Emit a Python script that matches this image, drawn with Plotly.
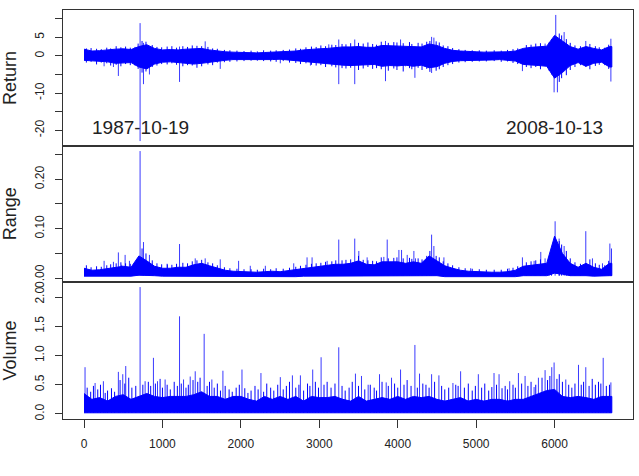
import plotly.graph_objects as go

# ---------------- data ----------------
# envelope of the dense band, sampled every 100 observations
bin_x = list(range(0, 6701, 100)) + [6730]

ret_hi = [1.8, 1.3, 1.4, 1.5, 1.8, 1.9, 1.7, 2.5, 3.0, 2.0,
          1.6, 1.7, 1.6, 1.8, 1.9, 2.0, 1.6, 1.3, 1.1, 1.0,
          0.9, 0.9, 0.8, 0.9, 1.0, 1.0, 1.1, 1.3, 1.6, 1.8,
          1.9, 2.0, 2.2, 2.4, 2.4, 2.5, 2.3, 2.3, 2.8, 2.7,
          2.8, 2.5, 2.6, 2.4, 3.2, 2.8, 2.0, 1.5, 1.3, 1.1,
          1.1, 1.0, 1.0, 1.0, 1.1, 1.3, 2.0, 2.3, 2.5, 2.6,
          5.5, 4.0, 2.5, 1.8, 2.5, 2.0, 1.6, 2.5, 2.5]
ret_lo = [-1.2, -1.3, -1.5, -1.6, -2.0, -2.0, -1.8, -3.0, -3.5, -2.2,
          -1.7, -1.6, -2.0, -2.0, -2.2, -2.0, -1.6, -1.4, -1.2, -1.0,
          -1.0, -1.1, -0.9, -1.0, -1.0, -0.9, -1.2, -1.3, -1.5, -1.8,
          -2.0, -2.1, -2.3, -2.5, -2.6, -2.7, -2.4, -2.3, -2.8, -2.6,
          -2.7, -2.5, -2.8, -2.5, -3.2, -2.9, -2.0, -1.5, -1.3, -1.2,
          -1.1, -1.1, -1.1, -1.0, -1.2, -1.4, -2.3, -2.5, -2.6, -2.8,
          -6.0, -4.5, -2.6, -1.8, -2.8, -2.0, -1.7, -3.0, -3.0]

rng_hi = [0.020, 0.016, 0.017, 0.019, 0.022, 0.024, 0.022, 0.045, 0.035, 0.024,
          0.020, 0.020, 0.022, 0.022, 0.027, 0.030, 0.025, 0.020, 0.016, 0.014,
          0.013, 0.013, 0.012, 0.013, 0.014, 0.013, 0.015, 0.017, 0.020, 0.022,
          0.024, 0.026, 0.028, 0.028, 0.030, 0.035, 0.028, 0.027, 0.033, 0.033,
          0.033, 0.030, 0.033, 0.030, 0.045, 0.035, 0.025, 0.020, 0.016, 0.014,
          0.013, 0.012, 0.012, 0.012, 0.013, 0.016, 0.024, 0.026, 0.028, 0.030,
          0.085, 0.050, 0.030, 0.022, 0.030, 0.022, 0.018, 0.030, 0.030]
rng_lo = [0.004, 0.004, 0.004, 0.004, 0.004, 0.004, 0.004, 0.006, 0.006, 0.005,
          0.004, 0.004, 0.004, 0.004, 0.004, 0.004, 0.004, 0.003, 0.003, 0.003,
          0.003, 0.003, 0.003, 0.003, 0.003, 0.003, 0.003, 0.003, 0.004, 0.004,
          0.004, 0.004, 0.004, 0.004, 0.005, 0.005, 0.005, 0.005, 0.005, 0.005,
          0.005, 0.005, 0.005, 0.005, 0.005, 0.005, 0.003, 0.003, 0.003, 0.003,
          0.003, 0.003, 0.003, 0.003, 0.003, 0.003, 0.005, 0.005, 0.005, 0.005,
          0.010, 0.008, 0.005, 0.005, 0.005, 0.004, 0.004, 0.005, 0.005]

vol_hi = [0.35, 0.25, 0.28, 0.22, 0.30, 0.33, 0.25, 0.30, 0.35, 0.30,
          0.28, 0.30, 0.30, 0.30, 0.33, 0.38, 0.30, 0.30, 0.25, 0.30,
          0.30, 0.25, 0.22, 0.30, 0.25, 0.30, 0.25, 0.30, 0.22, 0.30,
          0.28, 0.28, 0.30, 0.25, 0.22, 0.30, 0.22, 0.25, 0.28, 0.25,
          0.30, 0.25, 0.30, 0.28, 0.30, 0.25, 0.22, 0.25, 0.28, 0.22,
          0.25, 0.22, 0.25, 0.25, 0.22, 0.25, 0.25, 0.30, 0.35, 0.40,
          0.42, 0.30, 0.28, 0.30, 0.28, 0.25, 0.30, 0.30, 0.30]
vol_lo = [0.02] * 69

# large isolated spikes: observation index, top, bottom
ret_spk_x = [256, 375, 438, 715, 758, 834, 1218, 1545, 1737, 2503, 2887, 3121, 3248,
             3452, 3844, 4036, 4100, 4219, 4432, 4461, 5590, 5879, 5994, 6015, 6036,
             6122, 6398, 6718]
ret_spk_hi = [1.0, 1.0, 1.5, 8.8, 3.5, 1.5, 2.5, 3.9, 1.0, 1.0, 1.0, 3.1, 4.4,
              4.4, 4.0, 4.4, 2.0, 2.5, 5.1, 4.9, 1.5, 3.3, 4.0, 11.0, 4.0,
              6.4, 4.0, 4.6]
ret_spk_lo = [-2.8, -3.0, -5.4, -22.9, -7.6, -5.0, -7.0, -1.0, -3.5, -2.0, -2.6, -1.5, -7.6,
              -7.6, -6.8, -2.0, -2.8, -5.9, -4.6, -2.0, -4.1, -2.0, -9.8, -5.0, -9.8,
              -3.0, -3.0, -6.9]

# smaller spikes that make the ragged edge of the band
minor_x = [30, 90, 160, 220, 290, 340, 410, 470, 530, 590, 650, 690, 740, 790, 870, 930,
           990, 1060, 1120, 1180, 1260, 1320, 1380, 1440, 1500, 1580, 1640, 1700, 1790,
           1860, 1950, 2040, 2130, 2210, 2290, 2380, 2450, 2540, 2620, 2700, 2760, 2830,
           2900, 2960, 3020, 3080, 3160, 3210, 3290, 3340, 3400, 3500, 3560, 3620, 3680,
           3730, 3790, 3880, 3950, 3990, 4070, 4150, 4180, 4260, 4310, 4370, 4410, 4490,
           4530, 4580, 4640, 4700, 4780, 4860, 4950, 5040, 5130, 5230, 5320, 5400, 5470,
           5530, 5640, 5700, 5760, 5820, 5930, 5960, 6060, 6090, 6150, 6200, 6260, 6330,
           6450, 6520, 6570, 6640, 6690]
ret_minor_hi = [2.0, 2.1, 1.9, 1.8, 2.2, 2.0, 2.6, 2.3, 2.5, 2.2, 2.4, 3.3, 4.0, 3.8, 2.9, 2.4,
                2.3, 2.5, 2.6, 2.2, 2.6, 2.4, 2.8, 2.7, 2.6, 2.4, 2.0, 1.9, 1.6,
                1.5, 1.4, 1.3, 1.4, 1.2, 1.5, 1.4, 1.5, 1.6, 1.7, 2.0, 1.9, 2.3,
                2.5, 2.4, 2.8, 2.6, 3.0, 2.9, 3.2, 3.1, 3.4, 3.5, 3.3, 3.6, 3.2,
                3.0, 3.8, 3.5, 3.7, 3.6, 3.4, 3.7, 3.2, 3.5, 3.3, 3.8, 4.0, 3.9,
                3.6, 2.8, 2.6, 2.1, 1.8, 1.6, 1.5, 1.5, 1.4, 1.5, 1.4, 1.6, 1.8,
                2.0, 2.9, 3.0, 3.3, 3.4, 3.6, 4.5, 6.0, 5.5, 4.5, 3.5, 2.8, 2.6,
                3.2, 2.6, 2.3, 2.2, 3.0]
ret_minor_lo = [-1.8, -1.6, -2.3, -1.8, -2.0, -2.6, -2.4, -2.8, -2.2, -2.5, -2.6, -3.5, -4.5, -4.2, -3.0, -2.6,
                -2.2, -2.3, -2.0, -2.4, -2.8, -2.5, -2.6, -3.2, -2.8, -2.3, -2.5, -1.8, -1.7,
                -1.6, -1.5, -1.4, -1.3, -1.3, -1.4, -1.5, -1.6, -1.4, -1.8, -1.9, -2.2, -2.0,
                -2.4, -2.6, -2.5, -3.0, -2.8, -3.1, -3.3, -3.4, -3.2, -3.8, -3.4, -3.0, -3.5,
                -3.3, -3.6, -4.0, -3.4, -3.8, -4.2, -3.3, -3.6, -3.2, -3.8, -3.5, -4.3, -4.0,
                -3.6, -3.0, -2.5, -2.2, -1.8, -1.7, -1.6, -1.5, -1.5, -1.4, -1.6, -1.5, -1.9,
                -2.2, -3.0, -3.3, -3.0, -3.6, -4.0, -5.0, -7.0, -6.0, -5.2, -3.8, -3.0, -2.5,
                -3.6, -2.7, -2.4, -2.5, -3.5]

rng_spk_x = [256, 375, 438, 481, 524, 579, 715, 758, 834, 1064, 1218, 1418, 1545,
             1737, 1971, 2120, 2312, 2674, 2844, 2908, 3100, 3248, 3452, 3504, 3610,
             3738, 3823, 3866, 4015, 4049, 4121, 4206, 4227, 4432, 4461, 4589, 4930,
             5420, 5590, 5739, 5824, 5879, 6007, 6058, 6122, 6398, 6483, 6611, 6705, 6726]
rng_spk_hi = [0.035, 0.033, 0.052, 0.027, 0.047, 0.035, 0.257, 0.073, 0.047, 0.027, 0.069, 0.040, 0.040,
              0.038, 0.035, 0.025, 0.025, 0.030, 0.042, 0.042, 0.035, 0.078, 0.080, 0.055, 0.042,
              0.030, 0.043, 0.078, 0.057, 0.057, 0.047, 0.055, 0.040, 0.088, 0.065, 0.042, 0.020,
              0.020, 0.042, 0.035, 0.053, 0.040, 0.115, 0.080, 0.065, 0.095, 0.040, 0.030, 0.070, 0.060]
rng_minor_hi = [0.026, 0.022, 0.024, 0.023, 0.026, 0.028, 0.030, 0.032, 0.030, 0.029, 0.031, 0.040,
                0.060, 0.050, 0.036, 0.030, 0.028, 0.029, 0.027, 0.029, 0.031, 0.030, 0.034,
                0.036, 0.037, 0.032, 0.030, 0.026, 0.022, 0.020, 0.019, 0.018, 0.018, 0.017,
                0.019, 0.018, 0.020, 0.019, 0.021, 0.023, 0.025, 0.027, 0.029, 0.030, 0.031,
                0.033, 0.034, 0.036, 0.036, 0.037, 0.038, 0.045, 0.037, 0.036, 0.035, 0.034,
                0.042, 0.040, 0.041, 0.042, 0.040, 0.041, 0.039, 0.040, 0.038, 0.045, 0.055,
                0.045, 0.042, 0.034, 0.030, 0.026, 0.022, 0.020, 0.019, 0.018, 0.017, 0.017,
                0.017, 0.019, 0.021, 0.024, 0.032, 0.034, 0.036, 0.038, 0.042, 0.060, 0.075,
                0.068, 0.055, 0.040, 0.032, 0.029, 0.038, 0.030, 0.027, 0.026, 0.035]

vol_spk_x = [13, 141, 247, 438, 494, 532, 715, 779, 885, 937, 1034, 1218, 1269, 1354,
             1418, 1532, 1630, 1771, 2014, 2256, 2503, 2657, 2759, 2916, 3023, 3248,
             3461, 3538, 3623, 3768, 3853, 3921, 4036, 4219, 4278, 4432, 4525, 4704,
             4802, 5028, 5228, 5292, 5428, 5539, 5624, 5739, 5794, 5879, 5964, 5994,
             6143, 6305, 6398, 6620, 6718]
vol_spk_hi = [0.80, 0.53, 0.56, 0.72, 0.68, 0.82, 2.17, 0.56, 0.96, 0.56, 0.59, 1.67, 0.59, 0.64,
              0.73, 1.37, 0.59, 0.74, 0.76, 0.70, 0.63, 0.66, 0.66, 0.76, 0.97, 1.14,
              0.69, 0.65, 0.50, 0.68, 0.54, 0.62, 0.76, 1.18, 0.69, 0.68, 0.66, 0.53,
              0.73, 0.68, 0.70, 0.68, 0.56, 0.70, 0.65, 0.46, 0.62, 0.75, 0.80, 0.88,
              0.59, 0.84, 0.80, 0.96, 0.54]
vol_minor_x = [40, 85, 120, 175, 210, 270, 300, 350, 390, 460, 520, 570, 610, 660, 750, 820,
               850, 910, 970, 1000, 1060, 1100, 1150, 1190, 1240, 1300, 1330, 1390, 1450,
               1480, 1570, 1600, 1660, 1700, 1740, 1800, 1850, 1890, 1940, 1980, 2050, 2090,
               2130, 2180, 2220, 2290, 2330, 2380, 2420, 2470, 2540, 2580, 2620, 2700, 2740,
               2800, 2850, 2880, 2950, 2990, 3060, 3100, 3150, 3200, 3290, 3330, 3380, 3420,
               3500, 3580, 3650, 3700, 3730, 3800, 3880, 3960, 4000, 4080, 4120, 4170, 4250,
               4320, 4360, 4400, 4470, 4560, 4600, 4650, 4740, 4770, 4850, 4900, 4950, 4990,
               5070, 5110, 5160, 5200, 5260, 5330, 5370, 5400, 5470, 5500, 5580, 5660, 5700,
               5760, 5840, 5910, 5940, 6030, 6060, 6100, 6180, 6220, 6260, 6340, 6370, 6440,
               6480, 6520, 6560, 6590, 6660, 6700]
vol_minor_hi = [0.45, 0.38, 0.48, 0.42, 0.50, 0.36, 0.40, 0.44, 0.38, 0.58,
                0.52, 0.62, 0.45, 0.48, 0.50, 0.55, 0.48, 0.52, 0.60, 0.45,
                0.50, 0.42, 0.55, 0.48, 0.52, 0.45, 0.50, 0.58, 0.55, 0.62,
                0.48, 0.55, 0.45, 0.52, 0.40, 0.48, 0.42, 0.38, 0.45, 0.50,
                0.44, 0.36, 0.40, 0.48, 0.42, 0.38, 0.52, 0.45, 0.40, 0.50,
                0.42, 0.48, 0.55, 0.45, 0.50, 0.40, 0.52, 0.48, 0.55, 0.45,
                0.50, 0.55, 0.45, 0.52, 0.48, 0.40, 0.45, 0.55, 0.48, 0.42,
                0.50, 0.45, 0.40, 0.55, 0.48, 0.52, 0.45, 0.50, 0.58, 0.48,
                0.45, 0.52, 0.50, 0.45, 0.55, 0.48, 0.42, 0.45, 0.50, 0.48,
                0.45, 0.52, 0.40, 0.48, 0.45, 0.52, 0.40, 0.46, 0.50, 0.44,
                0.48, 0.42, 0.50, 0.45, 0.52, 0.48, 0.55, 0.50, 0.62, 0.58,
                0.65, 0.60, 0.68, 0.55, 0.50, 0.45, 0.52, 0.50, 0.55, 0.48,
                0.60, 0.50, 0.55, 0.52, 0.48, 0.50]

ret_ticks = [-20, -15, -10, -5, 0, 5, 10]
ret_ticktext = ["-20", "", "-10", "", "0", "5", ""]
rng_ticks = [0.0, 0.05, 0.10, 0.15, 0.20, 0.25]
rng_ticktext = ["0.00", "", "0.10", "", "0.20", ""]
vol_ticks = [0.0, 0.5, 1.0, 1.5, 2.0]
vol_ticktext = ["0.0", "0.5", "1.0", "1.5", "2.0"]
x_ticks = [0, 1000, 2000, 3000, 4000, 5000, 6000]

event_labels = ["1987-10-19", "2008-10-13"]
event_x = [715, 6000]

# ---------------- figure ----------------
BLUE = "#0000ff"
SPIKE = "#3a3aff"
W, H = 639, 476
fig = go.Figure()


def band(xs, hi, lo, xa, ya):
    fig.add_trace(go.Scatter(
        x=xs + xs[::-1], y=hi + lo[::-1], mode="lines", fill="toself",
        fillcolor=BLUE, line=dict(color=BLUE, width=1), xaxis=xa, yaxis=ya,
        hoverinfo="skip", showlegend=False))


def spikes(xs, hi, lo, xa, ya, color=BLUE, width=1.0):
    px, py = [], []
    for a, h, l in zip(xs, hi, lo):
        px += [a, a, None]
        py += [l, h, None]
    fig.add_trace(go.Scatter(x=px, y=py, mode="lines",
                             line=dict(color=color, width=width),
                             xaxis=xa, yaxis=ya, hoverinfo="skip", showlegend=False))


# big spikes first so the dense band covers their lower parts
spikes(ret_spk_x, ret_spk_hi, ret_spk_lo, "x", "y", SPIKE)
band(bin_x, ret_hi, ret_lo, "x", "y")
spikes(minor_x, ret_minor_hi, ret_minor_lo, "x", "y")
spikes(rng_spk_x, rng_spk_hi, [0.005] * len(rng_spk_x), "x2", "y2", SPIKE)
band(bin_x, rng_hi, rng_lo, "x2", "y2")
spikes(minor_x, rng_minor_hi, [0.005] * len(minor_x), "x2", "y2")
spikes(vol_spk_x, vol_spk_hi, [0.02] * len(vol_spk_x), "x3", "y3", SPIKE)
band(bin_x, vol_hi, vol_lo, "x3", "y3")
spikes(vol_minor_x, vol_minor_hi, [0.02] * len(vol_minor_x), "x3", "y3")

xdom = [63 / W, 633 / W]


def ydom(top, bot):
    return [1 - bot / H, 1 - top / H]


FONT = "Liberation Sans, Arial, sans-serif"
TXT = "#222222"
LINE = "#333333"
xr = [-268, 7000]

common_x = dict(range=xr, domain=xdom, showline=True, mirror=True, linecolor=LINE,
                linewidth=1, showgrid=False, zeroline=False)
common_y = dict(showline=True, mirror=True, linecolor=LINE, linewidth=1, showgrid=False,
                zeroline=False, ticks="outside", ticklen=7, tickcolor=LINE, tickangle=-90,
                tickfont=dict(family=FONT, size=12, color=TXT), ticklabelstandoff=6)

fig.update_layout(
    width=W, height=H, margin=dict(l=0, r=0, t=0, b=0),
    paper_bgcolor="white", plot_bgcolor="white", showlegend=False,
    font=dict(family=FONT, color=TXT),
    xaxis=dict(**common_x, anchor="y", showticklabels=False, ticks=""),
    xaxis2=dict(**common_x, anchor="y2", showticklabels=False, ticks=""),
    xaxis3=dict(**common_x, anchor="y3", ticks="outside", ticklen=8, tickcolor=LINE,
                tickvals=x_ticks, tickfont=dict(family=FONT, size=12, color=TXT),
                ticklabelstandoff=6),
    yaxis=dict(**common_y, anchor="x", domain=ydom(10, 148), range=[-24.26, 12.36],
               tickvals=ret_ticks, ticktext=ret_ticktext),
    yaxis2=dict(**common_y, anchor="x2", domain=ydom(148, 286), range=[-0.0086, 0.267],
                tickvals=rng_ticks, ticktext=rng_ticktext),
    yaxis3=dict(**common_y, anchor="x3", domain=ydom(286, 424), range=[-0.08, 2.25],
                tickvals=vol_ticks, ticktext=vol_ticktext),
)

for name, yc in [("Return", 79), ("Range", 217), ("Volume", 355)]:
    fig.add_annotation(text=name, xref="paper", yref="paper", x=10 / W, y=1 - yc / H,
                       textangle=-90, showarrow=False, xanchor="center", yanchor="middle",
                       font=dict(family=FONT, size=18, color=TXT))

for lab, ex in zip(event_labels, event_x):
    fig.add_annotation(text=lab, x=ex, y=-19.3, xref="x", yref="y", showarrow=False,
                       xanchor="center", yanchor="middle",
                       font=dict(family=FONT, size=19, color=TXT))

fig.write_html("out.html")
